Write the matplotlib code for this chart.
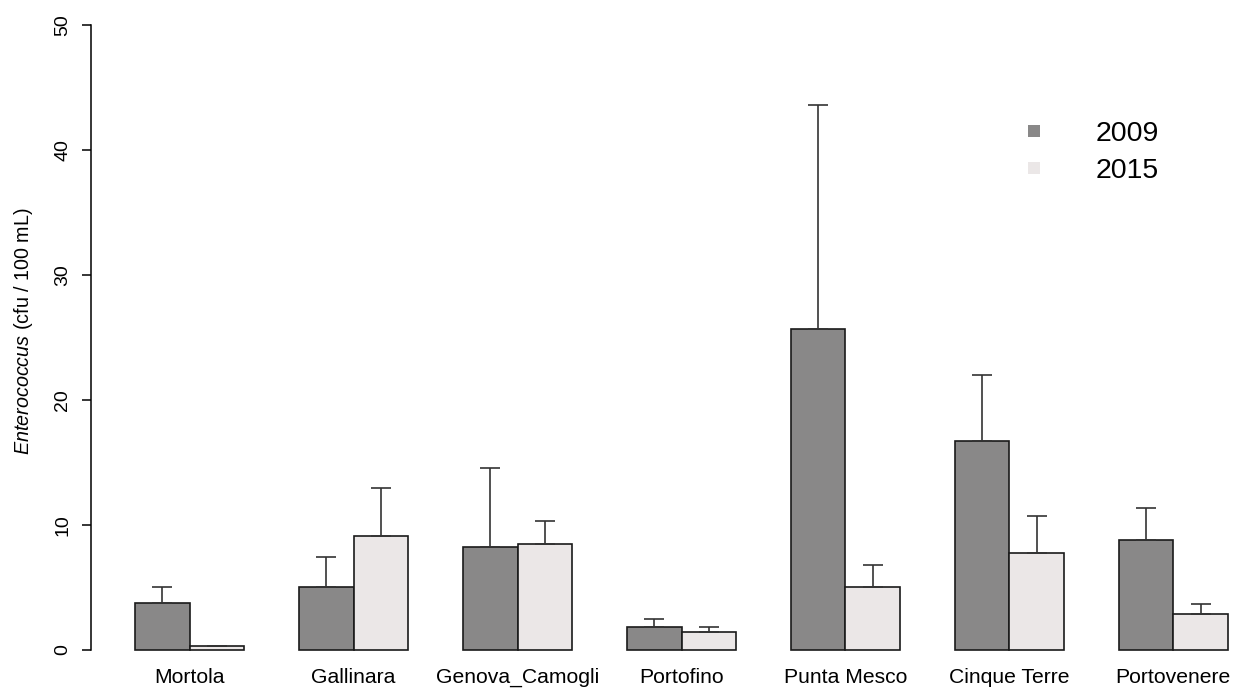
import numpy as np
import matplotlib.pyplot as plt

plt.rcParams['font.family'] = ['Liberation Sans', 'DejaVu Sans']
plt.rcParams['mathtext.fontset'] = 'custom'
plt.rcParams['mathtext.rm'] = 'Liberation Sans'
plt.rcParams['mathtext.it'] = 'Liberation Sans:italic'

# mean concentrations and standard errors per site
sites = ['Mortola', 'Gallinara', 'Genova_Camogli', 'Portofino',
         'Punta Mesco', 'Cinque Terre', 'Portovenere']
mean_2009 = [3.76, 5.04, 8.21, 1.84, 25.71, 16.75, 8.80]
se_2009 = [1.30, 2.40, 6.35, 0.64, 17.92, 5.28, 2.56]
mean_2015 = [0.30, 9.12, 8.45, 1.41, 5.04, 7.76, 2.85]
se_2015 = [0.00, 3.87, 1.87, 0.43, 1.76, 2.99, 0.83]
years = ['2009', '2015']

col_2009 = '#898888'
col_2015 = '#ebe7e7'

W, H = 1234, 688
fig = plt.figure(figsize=(W / 100, H / 100), dpi=100)
# plot region in pixels: left 91.3, top 0, bottom 662
ax = fig.add_axes([91.3 / W, (H - 662) / H, (W - 91.3) / W, 662 / H])

unit = 54.65  # px per bar width
ax.set_xlim(0.2, 0.2 + (W - 91.3) / unit)
ax.set_ylim(52 - 662 / 12.5, 52)

n = len(sites)
left = 1 + 3 * np.arange(n)
ax.bar(left, mean_2009, width=1, align='edge', color=col_2009,
       edgecolor='#1a1a1a', linewidth=1.2)
ax.bar(left + 1, mean_2015, width=1, align='edge', color=col_2015,
       edgecolor='#1a1a1a', linewidth=1.2)

zeros = np.zeros(n)
for x, m, e in [(left + 0.5, mean_2009, se_2009), (left + 1.5, mean_2015, se_2015)]:
    ax.errorbar(x, m, yerr=[zeros, e], fmt='none', ecolor='#333333',
                elinewidth=1.2, capsize=7.2, capthick=1.2)

for s in ['top', 'right', 'bottom']:
    ax.spines[s].set_visible(False)
ax.spines['left'].set_bounds(0, 50)
ax.spines['left'].set_linewidth(1.1)

ax.set_yticks(np.arange(0, 51, 10))
ax.set_yticklabels([str(v) for v in range(0, 51, 10)], rotation=90, va='center')
ax.tick_params(axis='y', length=6.5, width=1.1, pad=8, labelsize=14)
ax.set_xticks(left + 1)
ax.set_xticklabels(sites)
ax.tick_params(axis='x', length=0, pad=4, labelsize=15.2)

ax.set_ylabel(r'$\it{Enterococcus}$ (cfu / 100 mL)', fontsize=14.2, labelpad=14)

handles = [plt.Line2D([], [], marker='s', linestyle='none', markersize=9,
                      markerfacecolor=c, markeredgewidth=0)
           for c in (col_2009, col_2015)]
ax.legend(handles, years, loc='upper left', bbox_to_anchor=(1020 / W, 1 - 121 / H),
          bbox_transform=fig.transFigure, frameon=False, fontsize=20.5,
          handlelength=1, handletextpad=1.65, labelspacing=0.4,
          borderpad=0, borderaxespad=0)

fig.savefig('out.png', dpi=100)
